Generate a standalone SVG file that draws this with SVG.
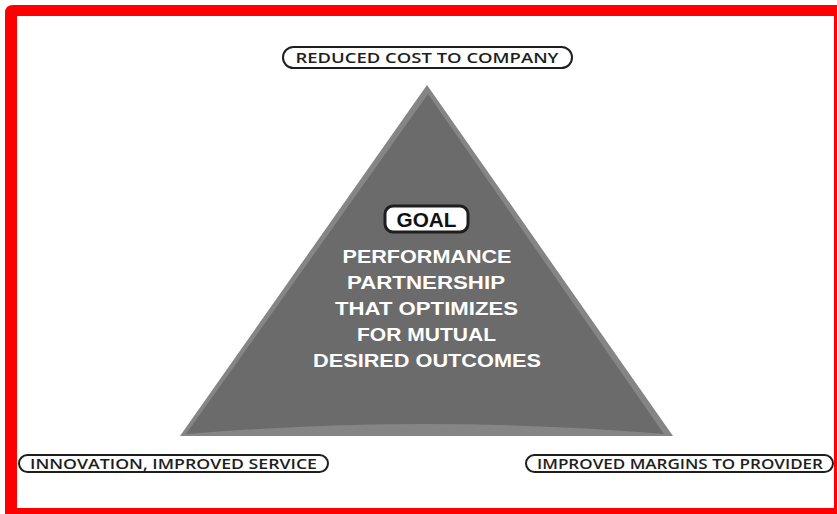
<svg xmlns="http://www.w3.org/2000/svg" width="837" height="514" viewBox="0 0 837 514">
  <style>
    .pill { fill: #ffffff; stroke: #1e1e1e; stroke-width: 2; }
    .pill-text { font-family: "Open Sans", "Liberation Sans", sans-serif; font-weight: 600; font-size: 14px; fill: #1e1e1e; text-anchor: middle; }
    .goal-text { font-family: "Liberation Sans", "DejaVu Sans", sans-serif; font-weight: 700; font-size: 20px; fill: #111111; text-anchor: middle; }
    .body-text { font-family: "Liberation Sans", "DejaVu Sans", sans-serif; font-weight: 700; font-size: 19px; fill: #ffffff; text-anchor: middle; }
  </style>

  <!-- page and red frame -->
  <rect x="0" y="0" width="837" height="514" fill="#ffffff"/>
  <path d="M5,13 Q5,5 13,5 L837,5 L837,514 L5,514 Z" fill="#ff0000"/>
  <rect x="17" y="16" width="817" height="492" fill="#ffffff"/>

  <!-- triangle with bevelled edges -->
  <g id="triangle">
    <path d="M427,85 L180,436 L673,436 Z" fill="#858585"/>
    <path d="M428,94 L186,434 Q427,414 664,434 Z" fill="#6b6b6b"/>
  </g>

  <g id="goal">
    <rect class="pill" x="385" y="206" width="83" height="26" rx="8" style="stroke-width:3"/>
    <text class="goal-text" x="426.5" y="227" textLength="60" lengthAdjust="spacingAndGlyphs">GOAL</text>
    <text class="body-text" x="427" y="263" textLength="169" lengthAdjust="spacingAndGlyphs">PERFORMANCE</text>
    <text class="body-text" x="426" y="289" textLength="158" lengthAdjust="spacingAndGlyphs">PARTNERSHIP</text>
    <text class="body-text" x="426.5" y="315" textLength="183" lengthAdjust="spacingAndGlyphs">THAT OPTIMIZES</text>
    <text class="body-text" x="426.5" y="341" textLength="139" lengthAdjust="spacingAndGlyphs">FOR MUTUAL</text>
    <text class="body-text" x="427" y="367" textLength="228" lengthAdjust="spacingAndGlyphs">DESIRED OUTCOMES</text>
  </g>

  <g id="top-label">
    <rect class="pill" x="283" y="47" width="289" height="21" rx="10.5"/>
    <text class="pill-text" x="427" y="62.5" textLength="263" lengthAdjust="spacingAndGlyphs">REDUCED COST TO COMPANY</text>
  </g>

  <g id="left-label">
    <rect class="pill" x="19" y="455" width="309" height="17" rx="8.5"/>
    <text class="pill-text" x="173.5" y="468.5" textLength="287" lengthAdjust="spacingAndGlyphs">INNOVATION, IMPROVED SERVICE</text>
  </g>

  <g id="right-label">
    <rect class="pill" x="526" y="455" width="307" height="17" rx="8.5"/>
    <text class="pill-text" x="680" y="468.5" textLength="286" lengthAdjust="spacingAndGlyphs">IMPROVED MARGINS TO PROVIDER</text>
  </g>

  <g id="connectors"/>
</svg>
